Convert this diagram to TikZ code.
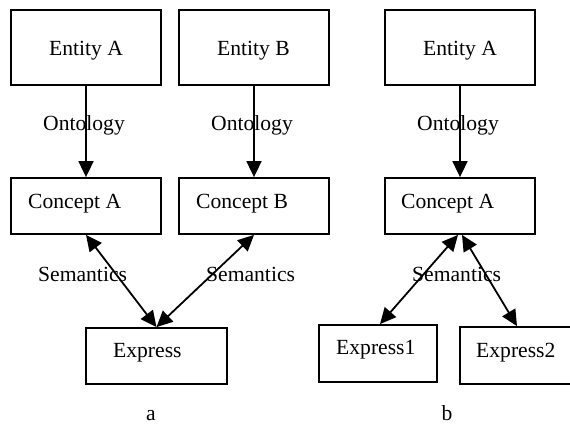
\documentclass[tikz,border=0pt]{standalone}
\usepackage{fontspec}
\setmainfont{Liberation Serif}
\usetikzlibrary{arrows.meta}
\begin{document}
\begin{tikzpicture}[x=1pt,y=-1pt,
  box/.style={draw,line width=1.8pt,rectangle,inner sep=0pt},
  lbl/.style={inner sep=0pt,anchor=base west,font=\fontsize{21.6}{26}\selectfont},
  subcap/.style={inner sep=0pt,anchor=base,font=\fontsize{21.6}{26}\selectfont},
  tip/.style={Triangle[length=16pt,width=15pt]},
  onearrow/.style={line width=1.8pt,-{Triangle[length=16pt,width=15pt]}},
  twoarrow/.style={line width=1.8pt,{Triangle[length=16pt,width=15pt]}-{Triangle[length=16pt,width=15pt]}}]
\useasboundingbox (0,0) rectangle (570,425);

% ---- part a ----
\node[box,minimum width=150pt,minimum height=75pt] (eA) at (86,47.5) {};
\node[box,minimum width=150pt,minimum height=75pt] (eB) at (254,47.5) {};
\node[box,minimum width=150pt,minimum height=56pt] (cA) at (86,206) {};
\node[box,minimum width=150pt,minimum height=56pt] (cB) at (254,206) {};
\node[box,minimum width=141pt,minimum height=56pt] (ex) at (156.5,356) {};

\node[lbl] (teA) at (49,56) {Entity A};
\node[lbl] (teB) at (217,56) {Entity B};
\node[lbl] (tcA) at (28,208) {Concept A};
\node[lbl] (tcB) at (196,208) {Concept B};
\node[lbl] (tex) at (113,357) {Express};

\draw[onearrow] (eA.south) -- (cA.north);
\draw[onearrow] (eB.south) -- (cB.north);
\node[lbl] (oA) at (43,131) {Ontology};
\node[lbl] (oB) at (211,131) {Ontology};

\draw[twoarrow] (cA.south) -- (ex.north);
\draw[twoarrow] (cB.south) -- (ex.north);
\node[lbl] (sA) at (38,281) {Semantics};
\node[lbl] (sB) at (206,281) {Semantics};

\node[subcap] (capa) at (151,420) {a};

% ---- part b ----
\node[box,minimum width=150pt,minimum height=75pt] (eA2) at (460,47.5) {};
\node[box,minimum width=150pt,minimum height=56pt] (cA2) at (460,206) {};
\node[box,minimum width=118pt,minimum height=57pt] (ex1) at (378,353.5) {};
\node[box,minimum width=114pt,minimum height=57pt] (ex2) at (517,355.5) {};

\node[lbl] (teA2) at (423,56) {Entity A};
\node[lbl] (tcA2) at (401,208) {Concept A};
\node[lbl] (tex1) at (336,354) {Express1};
\node[lbl] (tex2) at (476,357) {Express2};

\draw[onearrow] (eA2.south) -- (cA2.north);
\node[lbl] (oA2) at (417,131) {Ontology};

\draw[twoarrow] ([xshift=-2pt]cA2.south) -- ([xshift=2pt]ex1.north);
\draw[twoarrow] ([xshift=2pt]cA2.south) -- (ex2.north);
\node[lbl] (sC) at (412,281) {Semantics};

\node[subcap] (capb) at (447,420) {b};
\end{tikzpicture}
\end{document}
